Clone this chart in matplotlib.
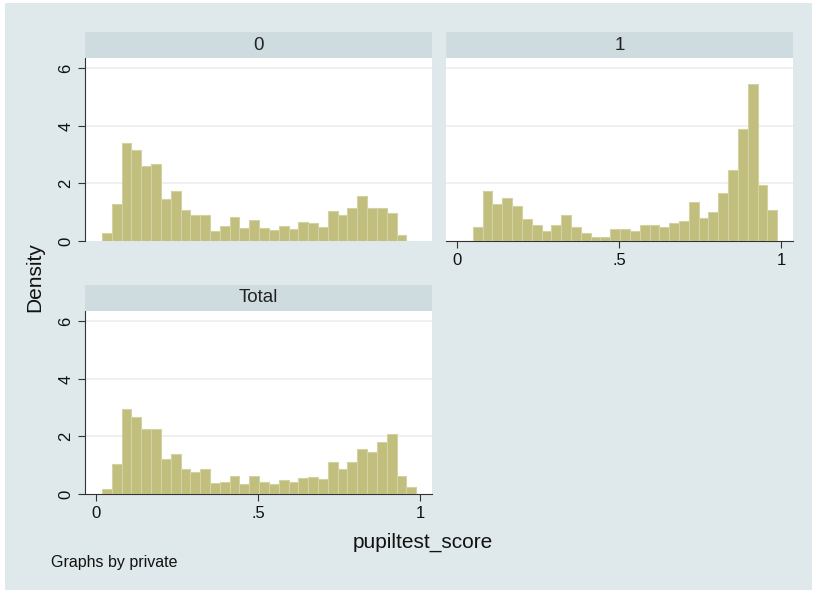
import numpy as np
import matplotlib
matplotlib.use("Agg")
import matplotlib.pyplot as plt
from matplotlib.patches import Rectangle

plt.rcParams['font.family'] = ['Liberation Sans', 'DejaVu Sans']

# histogram bins shared by all panels
bin_start = 0.0175
bin_width = 0.0303
n_bins = 32

# densities per bin
dens_0 = [0.29, 1.29, 3.40, 3.18, 2.59, 2.68, 1.45, 1.73, 1.09, 0.89, 0.89,
          0.35, 0.51, 0.85, 0.46, 0.72, 0.44, 0.39, 0.52, 0.41, 0.65, 0.62,
          0.49, 1.05, 0.92, 1.16, 1.58, 1.13, 1.13, 0.98, 0.21, 0.0]
dens_1 = [0.0, 0.48, 1.74, 1.27, 1.48, 1.21, 0.75, 0.56, 0.34, 0.56, 0.89,
          0.48, 0.28, 0.15, 0.15, 0.41, 0.41, 0.34, 0.56, 0.56, 0.48, 0.62,
          0.68, 1.34, 0.81, 1.01, 1.68, 2.47, 3.88, 5.47, 1.94, 1.08]
dens_total = [0.19, 1.04, 2.95, 2.66, 2.27, 2.27, 1.23, 1.39, 0.87, 0.76, 0.86,
              0.38, 0.43, 0.63, 0.34, 0.61, 0.41, 0.34, 0.48, 0.41, 0.56, 0.59,
              0.53, 1.10, 0.87, 1.10, 1.55, 1.46, 1.82, 2.10, 0.62, 0.26]

panel_titles = ['0', '1', 'Total']
y_ticks = [0, 2, 4, 6]
x_ticks = [0, 0.5, 1]
x_ticklabels = ['0', '.5', '1']

bg = '#dfe8ea'
strip_c = '#cedce0'
bar_c = '#c1be7e'
bar_edge = '#d3d2a2'
W, H = 817, 596

fig = plt.figure(figsize=(8.17, 5.96), dpi=100)
fig.patch.set_facecolor('white')
fig.patches.append(Rectangle((5 / W, 1 - 590 / H), 807 / W, 587 / H,
                             transform=fig.transFigure, facecolor=bg,
                             edgecolor='none', zorder=-10))


def px(l, t, r, b):
    return [l / W, 1 - b / H, (r - l) / W, (b - t) / H]


panels = [
    (dens_0, px(85, 58, 432, 241), px(85, 32, 432, 58), True, False),
    (dens_1, px(446, 58, 793, 241), px(446, 32, 793, 58), False, True),
    (dens_total, px(85, 311, 432, 494), px(85, 285, 432, 311), True, True),
]

edges = bin_start + bin_width * np.arange(n_bins)

for (dens, pos, spos, show_y, show_x), title in zip(panels, panel_titles):
    ax = fig.add_axes(pos)
    ax.set_facecolor('white')
    ax.bar(edges, dens, width=bin_width, align='edge', color=bar_c,
           edgecolor=bar_edge, linewidth=0.8, zorder=3)
    ax.set_xlim(-0.035, 1.036)
    ax.set_ylim(0, 6.36)
    for yv in y_ticks[1:]:
        ax.axhline(yv, color='#eeeeee', linewidth=1.2, zorder=1)
    for s in ax.spines.values():
        s.set_visible(False)
    ax.tick_params(axis='both', labelsize=12, colors='#333333', length=5,
                   width=0.8, labelcolor='#111111')
    if show_y:
        ax.spines['left'].set_visible(True)
        ax.spines['left'].set_color('#333333')
        ax.spines['left'].set_bounds(0, 6.36)
        ax.set_yticks(y_ticks)
        ax.set_yticklabels([str(v) for v in y_ticks], rotation=90, va='center')
    else:
        ax.set_yticks([])
    if show_x:
        ax.spines['bottom'].set_visible(True)
        ax.spines['bottom'].set_color('#333333')
        ax.set_xticks(x_ticks)
        ax.set_xticklabels(x_ticklabels)
    else:
        ax.set_xticks([])

    sax = fig.add_axes(spos)
    sax.set_facecolor(strip_c)
    sax.set_xticks([])
    sax.set_yticks([])
    for s in sax.spines.values():
        s.set_visible(False)
    sax.text(0.5, 0.5, title, ha='center', va='center', fontsize=13.5,
             color='#222222', transform=sax.transAxes)

fig.text(35 / W, 1 - 277 / H, 'Density', rotation=90, ha='center',
         va='center', fontsize=15, color='#111111')
fig.text(423 / W, 1 - 542 / H, 'pupiltest_score', ha='center', va='center',
         fontsize=15, color='#111111')
fig.text(51 / W, 1 - 563 / H, 'Graphs by private', ha='left', va='center',
         fontsize=11.5, color='#111111')

fig.savefig('out.png', dpi=100, facecolor=fig.get_facecolor())
